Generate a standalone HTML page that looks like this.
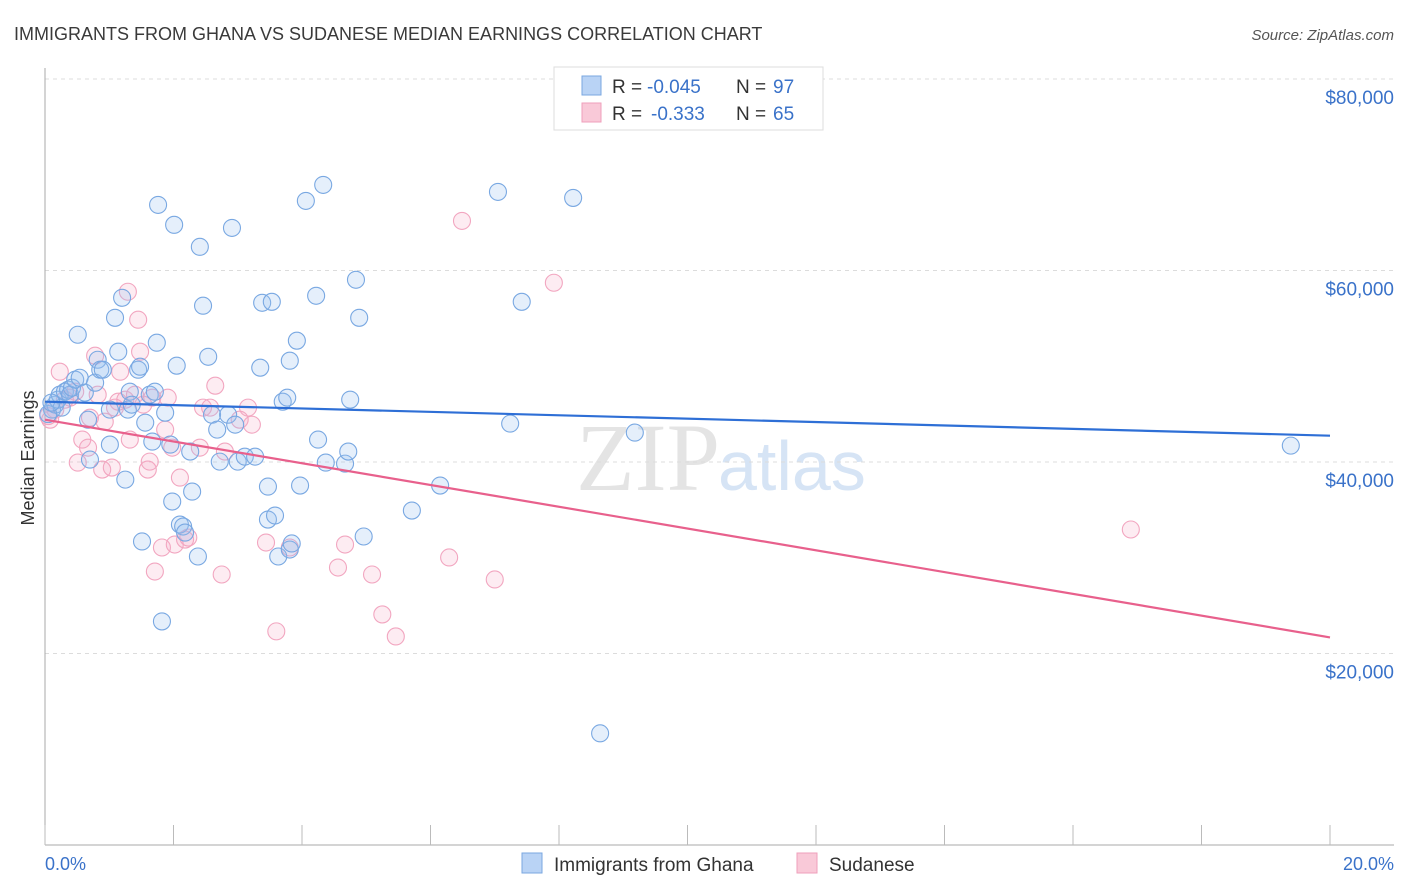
<!DOCTYPE html>
<html><head><meta charset="utf-8"><style>
body{margin:0;width:1406px;height:892px;background:#fff;font-family:"Liberation Sans",sans-serif;overflow:hidden}
svg{display:block}
</style></head><body>
<svg id="chart" width="1406" height="892">
<text x="14" y="40" font-size="18" fill="#3a3a3a">IMMIGRANTS FROM GHANA VS SUDANESE MEDIAN EARNINGS CORRELATION CHART</text>
<text x="1394" y="40" font-size="15" fill="#555" font-style="italic" text-anchor="end">Source: ZipAtlas.com</text>
<text x="720" y="490" font-size="96" fill="#e4e4e4" text-anchor="end" font-family="Liberation Serif">ZIP</text>
<text x="718" y="490" font-size="70" fill="#d6e4f5">atlas</text>
<g id="grid"></g><g id="axes"></g><g id="pts"></g><g id="lines"></g>
<text transform="translate(34,458) rotate(-90)" font-size="18" fill="#333" text-anchor="middle">Median Earnings</text>
<text x="45" y="870" font-size="18" fill="#3a72c9">0.0%</text>
<text x="1394" y="870" font-size="18" fill="#3a72c9" text-anchor="end">20.0%</text>
<g>
<rect x="554" y="67" width="269" height="63" fill="#fff" stroke="#ddd"/>
<rect x="582" y="76" width="19" height="19" fill="#b9d3f5" stroke="#7aa7e0"/>
<rect x="582" y="103" width="19" height="19" fill="#f9c9d8" stroke="#ef9fbb"/>
<text x="612" y="93" font-size="19" fill="#333">R =</text>
<text x="647" y="93" font-size="19" fill="#3a72c9">-0.045</text>
<text x="736" y="93" font-size="19" fill="#333">N =</text>
<text x="773" y="93" font-size="19" fill="#3a72c9">97</text>
<text x="612" y="120" font-size="19" fill="#333">R =</text>
<text x="651" y="120" font-size="19" fill="#3a72c9">-0.333</text>
<text x="736" y="120" font-size="19" fill="#333">N =</text>
<text x="773" y="120" font-size="19" fill="#3a72c9">65</text>
</g>
<g>
<rect x="522" y="853" width="20" height="20" fill="#b9d3f5" stroke="#7aa7e0"/>
<text x="554" y="871" font-size="19" fill="#333">Immigrants from Ghana</text>
<rect x="797" y="853" width="20" height="20" fill="#f9c9d8" stroke="#ef9fbb"/>
<text x="829" y="871" font-size="19" fill="#333">Sudanese</text>
</g>
</svg>
<script>
const yTicks=[20000,40000,60000,80000];
const yTickLabels=["$20,000","$40,000","$60,000","$80,000"];
const xTicks=[0,2,4,6,8,10,12,14,16,18,20];
const ghanaX=[0.11,0.16,0.2,0.23,0.26,0.31,0.36,0.39,0.42,0.47,0.51,0.54,0.62,0.67,0.70,0.78,0.82,0.86,0.9,1.01,1.01,1.09,1.14,1.2,1.25,1.29,1.32,1.35,1.45,1.48,1.51,1.56,1.63,1.67,1.71,1.74,1.76,1.82,1.87,1.95,1.98,2.01,2.05,2.1,2.15,2.18,2.26,2.29,2.38,2.41,2.46,2.54,2.6,2.68,2.72,2.85,2.91,2.96,3.0,3.11,3.27,3.35,3.38,3.47,3.47,3.53,3.58,3.63,3.7,3.77,3.81,3.84,3.81,3.92,3.97,4.06,4.22,4.25,4.33,4.37,4.67,4.72,4.75,4.84,4.89,4.96,5.71,6.15,7.05,7.24,7.42,8.22,8.64,9.18,19.39,0.05,0.1];
const ghanaY=[45470,45990,46510,47030,45680,47340,47550,47030,47760,48600,53290,48800,47240,44420,40250,48280,50680,49640,49640,45470,41820,55060,51520,57150,38160,45470,47340,45990,49640,49950,31700,44110,47030,42130,47340,52460,66850,23350,45150,41820,35870,64770,50060,33470,33260,32630,41090,36910,30130,62470,56320,50990,44940,43380,40040,44940,64450,43900,40040,40560,40560,49850,56630,37430,33990,56730,34410,30130,46300,46720,30860,31490,50580,52670,37540,67270,57360,42340,68940,39940,39830,41090,46510,59030,55060,32220,34930,37540,68210,44010,56730,67580,11660,43070,41710,45000,46200];
const sudanX=[0.08,0.16,0.23,0.31,0.39,0.47,0.51,0.58,0.67,0.70,0.78,0.82,0.89,0.93,1.04,1.09,1.14,1.17,1.25,1.29,1.32,1.40,1.45,1.48,1.53,1.6,1.63,1.67,1.71,1.82,1.87,1.91,1.98,2.02,2.1,2.18,2.23,2.41,2.46,2.57,2.65,2.75,2.8,3.03,3.16,3.22,3.44,3.6,3.81,4.56,4.67,5.09,5.25,5.46,6.29,6.49,7.0,7.92,16.9,0.05];
const sudanY=[44420,45470,49430,46510,46720,47340,39940,42340,41500,44630,51100,47030,39210,44210,39420,45680,46300,49430,46510,57780,42340,47030,54860,51520,45990,39210,40040,46720,28560,31070,43380,46720,41500,31380,38370,31900,32110,41500,45680,45680,47970,28250,41090,44420,45680,43900,31590,22310,31070,28980,31380,28250,24080,21780,30030,65180,27730,58720,32950,44800];
const ghanaTrend=[46300,42750];
const sudanTrend=[44420,21680];
const X0=45,X1=1330,Y0=845;
const xs=v=>X0+(X1-X0)*v/20;
const ys=v=>Y0-(Y0-79)*v/80000;
const NS="http://www.w3.org/2000/svg";
function mk(tag,attrs,parent){const e=document.createElementNS(NS,tag);for(const k in attrs)e.setAttribute(k,attrs[k]);document.getElementById(parent).appendChild(e);return e;}
yTicks.forEach((t,i)=>{
 const l=mk("line",{x1:X0,x2:1394,y1:ys(t),y2:ys(t),stroke:"#dcdcdc","stroke-dasharray":"4,4"},"grid");
 
 
 const tx=mk("text",{x:1394,y:ys(t)+25,"font-size":19,fill:"#3a72c9","text-anchor":"end"},"grid");
 tx.textContent=yTickLabels[i];
 
 
});
const ax=mk("line",{x1:X0,x2:X0,y1:68,y2:Y0,stroke:"#aaa"},"axes");


const bx=mk("line",{x1:X0,x2:1394,y1:Y0,y2:Y0,stroke:"#aaa"},"axes");


xTicks.forEach(t=>{
 const l=mk("line",{x1:xs(t),x2:xs(t),y1:Y0,y2:Y0-20,stroke:"#bbb"},"axes");
 
 
});
function dots(X,Y,fill,stroke,name){
 X.forEach((x,i)=>{
  const c=mk("circle",{cx:xs(x),cy:ys(Y[i]),r:8.5,fill:fill,stroke:stroke,"stroke-width":1.1},"pts");
  
  
 });
}
dots(sudanX,sudanY,"rgba(245,170,198,0.22)","#f2a6c0","sudanese-point");
dots(ghanaX,ghanaY,"rgba(150,190,240,0.25)","#79a8e2","ghana-point");
const g1=mk("line",{x1:xs(0),y1:ys(ghanaTrend[0]),x2:xs(20),y2:ys(ghanaTrend[1]),stroke:"#2e6fd6","stroke-width":2.2},"lines");


const s1=mk("line",{x1:xs(0),y1:ys(sudanTrend[0]),x2:xs(20),y2:ys(sudanTrend[1]),stroke:"#e8608c","stroke-width":2.2},"lines");


</script>
</body></html>
